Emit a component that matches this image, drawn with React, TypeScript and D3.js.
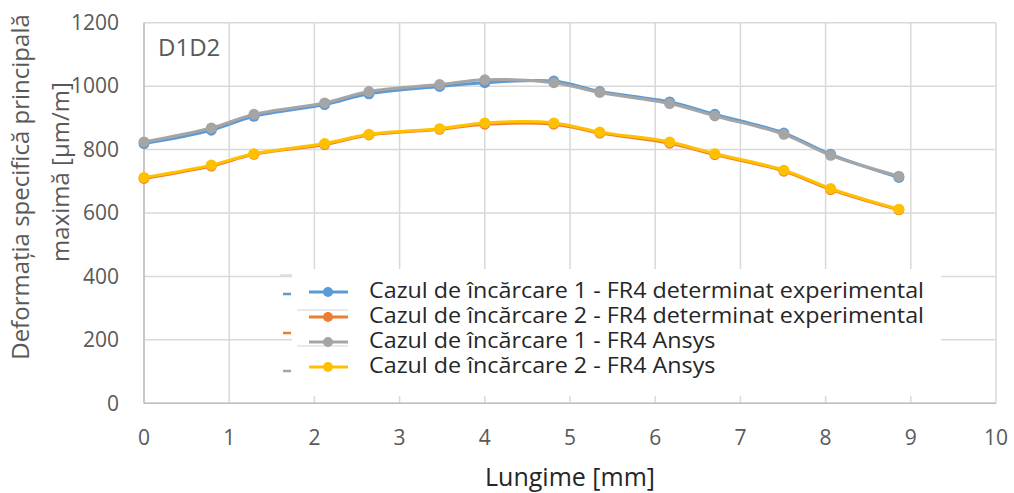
import React from "react";
import * as d3 from "d3";

const xPos = [0, 0.79, 1.29, 2.12, 2.64, 3.47, 4.0, 4.81, 5.35, 6.17, 6.7, 7.51, 8.06, 8.86];
const exp1 = [819, 861, 905, 942, 976, 999, 1011, 1016, 983, 950, 911, 852, 785, 712];
const exp2 = [709, 748, 785, 816, 846, 864, 880, 880, 852, 820, 784, 732, 674, 610];
const ans1 = [824, 868, 911, 947, 983, 1005, 1020, 1011, 980, 945, 906, 848, 782, 716];
const ans2 = [712, 751, 787, 819, 848, 866, 884, 884, 855, 824, 787, 735, 677, 612];
const seriesNames = [
  "Cazul de încărcare 1 - FR4 determinat experimental",
  "Cazul de încărcare 2 - FR4 determinat experimental",
  "Cazul de încărcare 1 - FR4 Ansys",
  "Cazul de încărcare 2 - FR4 Ansys",
];
const seriesColors = ["#5B9BD5", "#ED7D31", "#A5A5A5", "#FFC000"];
const xTicks = [0, 1, 2, 3, 4, 5, 6, 7, 8, 9, 10];
const yTicks = [0, 200, 400, 600, 800, 1000, 1200];

const W = 1014;
const H = 493;
const FONT = "'Open Sans', Lato, sans-serif";

export default function App() {
  const x = d3.scaleLinear().domain([0, 10]).range([144, 996]);
  const y = d3.scaleLinear().domain([0, 1200]).range([403.3, 22.7]);
  const data = [exp1, exp2, ans1, ans2];
  const line = d3
    .line<[number, number]>()
    .x((d) => x(d[0]))
    .y((d) => y(d[1]))
    .curve(d3.curveCatmullRom.alpha(0.5));

  const legendRowsY = [292, 317, 342, 367];

  return (
    <svg width={W} height={H} style={{ position: "absolute", left: 0, top: 0, background: "#fff" }}>
      <rect x={0} y={0} width={W} height={H} fill="#fff" />
      {/* grid */}
      {yTicks.map((t) => (
        <line key={"gy" + t} x1={x(0)} x2={x(10)} y1={y(t)} y2={y(t)} stroke="#D9D9D9" strokeWidth={1.5} />
      ))}
      {xTicks.map((t) => (
        <line key={"gx" + t} x1={x(t)} x2={x(t)} y1={y(0)} y2={y(1200)} stroke="#D9D9D9" strokeWidth={1.5} />
      ))}
      {/* axes */}
      <line x1={x(0)} x2={x(0)} y1={y(0)} y2={y(1200)} stroke="#BFBFBF" strokeWidth={1.5} />
      <line x1={x(0)} x2={x(10)} y1={y(0)} y2={y(0)} stroke="#BFBFBF" strokeWidth={1.5} />

      {/* series */}
      {data.map((s, i) => {
        const pts: [number, number][] = s.map((v, j) => [xPos[j], v]);
        return (
          <g key={"s" + i}>
            <path d={line(pts) || ""} fill="none" stroke={seriesColors[i]} strokeWidth={3} />
            {pts.map((p, j) => (
              <circle key={j} cx={x(p[0])} cy={y(p[1])} r={5.5} fill={seriesColors[i]} />
            ))}
          </g>
        );
      })}

      {/* legend box */}
      <rect x={292} y={269} width={649} height={127} fill="#fff" />
      <line x1={280} x2={292} y1={275} y2={275} stroke="#D9D9D9" strokeWidth={1.5} />
      <line x1={297} x2={348} y1={310} y2={310} stroke="#E3E3E3" strokeWidth={1.5} />
      <line x1={297} x2={348} y1={346} y2={346} stroke="#E3E3E3" strokeWidth={1.5} />
      {[0, 1, 2].map((i) => (
        <line key={"dash" + i} x1={283} x2={291} y1={[294, 333, 371][i]} y2={[294, 333, 371][i]} stroke={seriesColors[i]} strokeWidth={2.5} />
      ))}
      {seriesNames.map((n, i) => (
        <g key={"lg" + i}>
          <line x1={309} x2={348} y1={legendRowsY[i]} y2={legendRowsY[i]} stroke={seriesColors[i]} strokeWidth={3} />
          <circle cx={328} cy={legendRowsY[i]} r={5} fill={seriesColors[i]} />
          <g transform={`translate(369,${legendRowsY[i] - 1.5}) scale(1.06,1)`}>
            <text x={0} y={0} dy="0.35em" fontFamily={FONT} fontSize={22} fill="#262626">
              {n}
            </text>
          </g>
        </g>
      ))}

      {/* tick labels */}
      {yTicks.map((t) => (
        <text key={"ty" + t} x={119} y={y(t)} dy="0.35em" textAnchor="end" fontFamily={FONT} fontSize={21} fill="#595959">
          {t}
        </text>
      ))}
      {xTicks.map((t) => (
        <text key={"tx" + t} x={x(t)} y={438} dy="0.35em" textAnchor="middle" fontFamily={FONT} fontSize={21} fill="#595959">
          {t}
        </text>
      ))}

      {/* titles */}
      <text x={158} y={48} dy="0.35em" fontFamily={FONT} fontSize={24} fill="#595959">
        D1D2
      </text>
      <text x={570} y={477} dy="0.35em" textAnchor="middle" fontFamily={FONT} fontSize={25} fill="#262626">
        Lungime [mm]
      </text>
      <text transform="translate(21,187) rotate(-90)" dy="0.35em" textAnchor="middle" fontFamily={FONT} fontSize={24} fill="#595959">
        Deformația specifică principală
      </text>
      <text transform="translate(61,172) rotate(-90)" dy="0.35em" textAnchor="middle" fontFamily={FONT} fontSize={24} fill="#595959">
        maximă [µm/m]
      </text>
    </svg>
  );
}
